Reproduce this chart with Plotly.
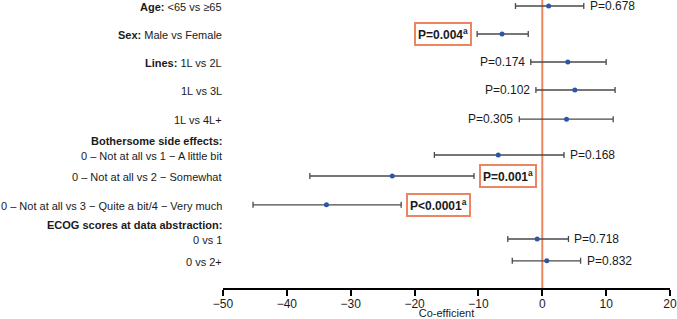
import plotly.graph_objects as go

# ---- data ----
labels = [
    "<b>Age:</b> &lt;65 vs ≥65",
    "<b>Sex:</b> Male vs Female",
    "<b>Lines:</b> 1L vs 2L",
    "1L vs 3L",
    "1L vs 4L+",
    "0 – Not at all vs 1 − A little bit",
    "0 – Not at all vs 2 − Somewhat",
    "0 – Not at all vs 3 − Quite a bit/4 − Very much",
    "0 vs 1",
    "0 vs 2+",
]
estimates = [1.0, -6.3, 4.0, 5.1, 3.8, -6.9, -23.5, -33.8, -0.8, 0.7]
lower = [-4.2, -10.2, -1.8, -1.0, -3.6, -16.9, -36.4, -45.3, -5.4, -4.7]
upper = [6.5, -2.2, 10.0, 11.4, 11.1, 3.4, -10.7, -22.1, 4.1, 6.0]
p_text = ["P=0.678", "P=0.004<sup>a</sup>", "P=0.174", "P=0.102", "P=0.305",
          "P=0.168", "P=0.001<sup>a</sup>", "P<0.0001<sup>a</sup>", "P=0.718", "P=0.832"]
headers = ["<b>Bothersome side effects:</b>", "<b>ECOG scores at data abstraction:</b>"]
x_ticks = [-50, -40, -30, -20, -10, 0, 10, 20]

# ---- layout helpers (positions / styles) ----
row_pos = [0, 1, 2, 3, 4.04, 5.32, 6.07, 7.1, 8.32, 9.1]
header_pos = [4.82, 7.82]
p_side = ["right", "left", "left", "left", "left", "right", "right", "right", "right", "right"]
p_boxed = [False, True, False, False, False, False, True, True, False, False]

ORANGE = "#ec8660"
BLUE = "#2d56a8"
FONT = "Liberation Sans, Arial, sans-serif"

fig = go.Figure()

fig.add_shape(type="line", x0=0, x1=0, xref="x", yref="paper", y0=0, y1=1,
              line=dict(color=ORANGE, width=2), layer="below")

fig.add_trace(go.Scatter(
    x=estimates, y=row_pos, mode="markers",
    marker=dict(color=BLUE, size=5),
    error_x=dict(type="data", symmetric=False,
                 array=[u - e for u, e in zip(upper, estimates)],
                 arrayminus=[e - l for e, l in zip(estimates, lower)],
                 color="#4a4a4a", thickness=1.3, width=3),
    showlegend=False, hoverinfo="skip"))

# row labels
for lab, y in zip(labels, row_pos):
    fig.add_annotation(x=0, xref="paper", y=y, yref="y", text=lab, showarrow=False,
                       xanchor="right", yanchor="middle", xshift=1, yshift=-1,
                       font=dict(size=11, color="#1a1a1a", family=FONT))
for h, y in zip(headers, header_pos):
    fig.add_annotation(x=0, xref="paper", y=y, yref="y", text=h, showarrow=False,
                       xanchor="right", yanchor="middle", xshift=1,
                       font=dict(size=11, color="#1a1a1a", family=FONT))

# p-values
for i, txt in enumerate(p_text):
    boxed = p_boxed[i]
    side = p_side[i]
    t = txt.replace("<", "&lt;").replace("&lt;sup>", "<sup>").replace("&lt;/sup>", "</sup>")
    if boxed:
        t = "<b>" + t + "</b>"
    if side == "right":
        xv, anchor, shift = upper[i], "left", 4 if not boxed else 5
    else:
        xv, anchor, shift = lower[i], "right", -4 if not boxed else -5
    kw = dict(bordercolor=ORANGE, borderwidth=2, borderpad=2, bgcolor="white") if boxed else {}
    fig.add_annotation(x=xv, y=row_pos[i], xref="x", yref="y", text=t, showarrow=False,
                       xanchor=anchor, yanchor="middle", xshift=shift,
                       font=dict(size=12, color="#1a1a1a", family=FONT), **kw)

fig.update_layout(
    width=677, height=319,
    margin=dict(l=223, r=7, t=0, b=31),
    plot_bgcolor="white", paper_bgcolor="white",
    font=dict(family=FONT, color="#1a1a1a"),
    xaxis=dict(range=[-50, 20], tickvals=x_ticks, ticks="outside", ticklen=6,
               tickwidth=1.5, tickcolor="black", showline=True, linecolor="black",
               linewidth=1.5, showgrid=False, zeroline=False, ticklabelstandoff=-2,
               tickfont=dict(size=12, color="#1a1a1a"),
               title=dict(text="Co-efficient", font=dict(size=11, color="#1a1a1a"), standoff=0)),
    yaxis=dict(range=[10.07, -0.214], visible=False, showgrid=False, zeroline=False),
)

fig.write_html("out.html", config={"displayModeBar": False},
               post_script="document.body.style.margin='0';document.body.style.overflow='hidden';")
